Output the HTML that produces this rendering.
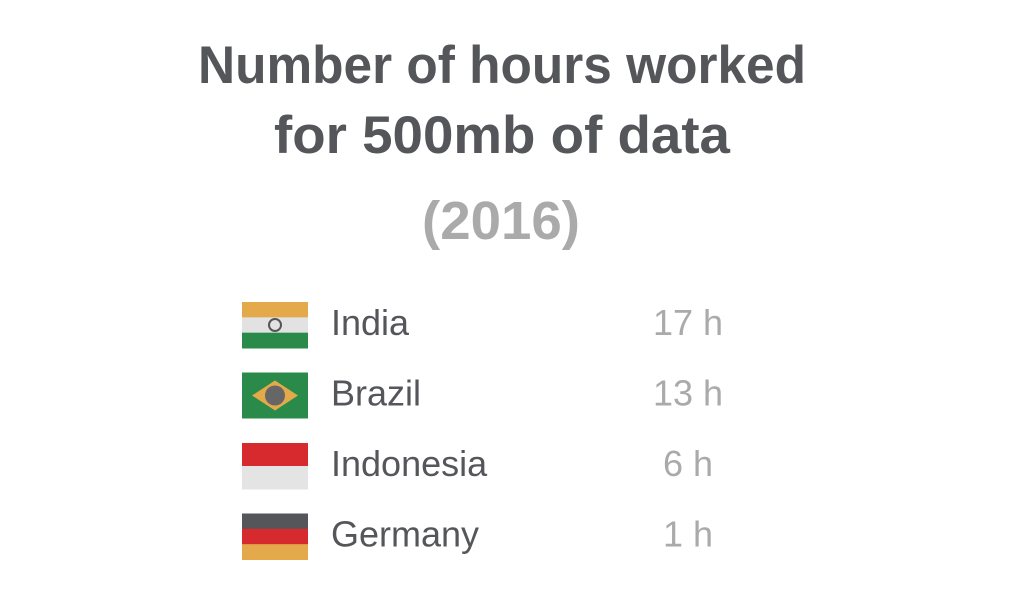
<!DOCTYPE html>
<html><head><meta charset="utf-8"><style>
html,body{margin:0;padding:0;background:#fff;width:1024px;height:603px;overflow:hidden}
svg{display:block;font-family:"Liberation Sans",sans-serif}
</style></head><body>
<svg id="chart" width="1024" height="603" viewBox="0 0 1024 603">
  <text x="502" y="83" text-anchor="middle" font-size="53" font-weight="bold" fill="#55565a" textLength="608" lengthAdjust="spacingAndGlyphs">Number of hours worked</text>
  <text x="502" y="153" text-anchor="middle" font-size="53" font-weight="bold" fill="#55565a" textLength="456" lengthAdjust="spacingAndGlyphs">for 500mb of data</text>
  <text x="501" y="239" text-anchor="middle" font-size="54" font-weight="bold" fill="#aaaaaa" textLength="158" lengthAdjust="spacingAndGlyphs">(2016)</text>
  <g id="rows"></g>
</svg>
<script>
const countries = ["India","Brazil","Indonesia","Germany"];
const hours = [17,13,6,1];
const unitLabel = " h";
const flagTypes = ["india","brazil","indonesia","germany"];

const NS = "http://www.w3.org/2000/svg";
const rows = document.getElementById("rows");
function rowY(i){ return 300 + i*70.5; }
function mk(tag, attrs, parent){
  const e = document.createElementNS(NS, tag);
  for (const k in attrs) e.setAttribute(k, attrs[k]);
  parent.appendChild(e);
  return e;
}
function stripes(g, colors, x, y, w, h){
  const sh = h/colors.length;
  colors.forEach((c,j)=>mk("rect",{x:x,y:y+j*sh,width:w,height:sh+0.5,fill:c},g));
}
function drawFlag(g, type, x, y){
  const w=66,h=46;
  if(type==="india"){
    stripes(g,["#e3a94a","#e2e2e2","#2a8a4a"],x,y,w,h);
    mk("circle",{cx:x+w/2,cy:y+h/2,r:6,fill:"none",stroke:"#555",'stroke-width':2},g);
  } else if(type==="brazil"){
    mk("rect",{x:x,y:y,width:w,height:h,fill:"#2a8a4a"},g);
    mk("polygon",{points:`${x+10},${y+h/2} ${x+w/2},${y+8} ${x+w-10},${y+h/2} ${x+w/2},${y+h-8}`,fill:"#e3a94a"},g);
    mk("circle",{cx:x+w/2,cy:y+h/2,r:10,fill:"#666"},g);
  } else if(type==="indonesia"){
    stripes(g,["#d62a2f","#e4e4e4"],x,y,w,h);
  } else {
    stripes(g,["#555659","#d62a2f","#e3a94a"],x,y,w,h);
  }
}
countries.forEach((name,i)=>{
  const y = rowY(i);
  const g = mk("g",{},rows);
  
  
  const fg = mk("g",{},g);
  
  
  drawFlag(fg, flagTypes[i], 242, y+2);
  const t = mk("text",{x:331,y:y+35,'font-size':36,fill:"#55565a"},g);
  
  
  t.textContent = name;
  const v = mk("text",{x:688,y:y+35,'font-size':36,fill:"#aaaaaa",'text-anchor':"middle"},g);
  
  
  v.textContent = hours[i] + unitLabel;
});
</script>
</body></html>
